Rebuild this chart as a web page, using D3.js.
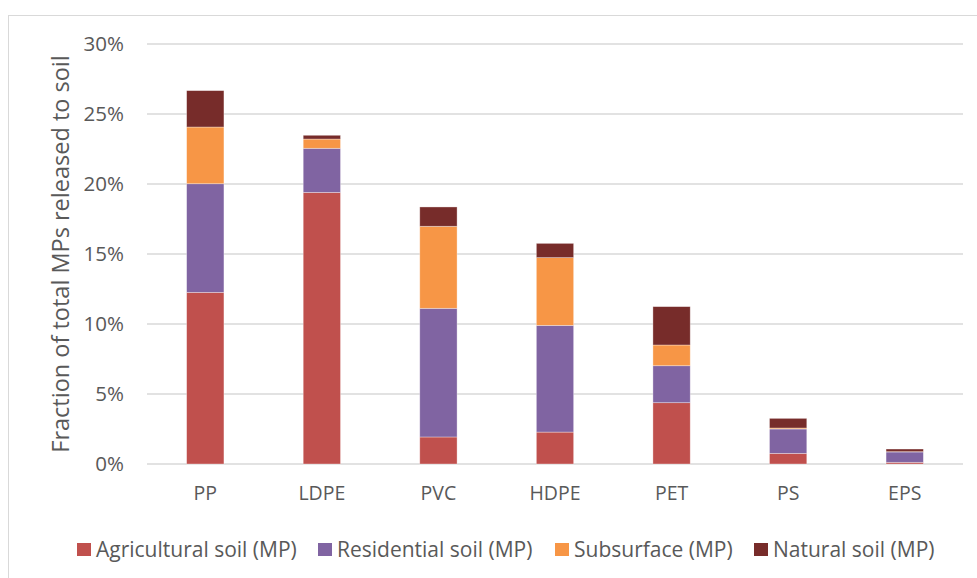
<!DOCTYPE html>
<html>
<head>
<meta charset="utf-8">
<script src="https://cdn.jsdelivr.net/npm/d3@7"></script>
<style>
  body { margin: 0; background: #fff; }
  text { font-family: "Open Sans", sans-serif; fill: #595959; }
</style>
</head>
<body>
<svg id="chart" width="977" height="578"></svg>
<script>
// values in % of total MPs released to soil
const polymers = ['PP', 'LDPE', 'PVC', 'HDPE', 'PET', 'PS', 'EPS'];
const agricultural = [12.26, 19.4, 1.93, 2.28, 4.38, 0.76, 0.12];
const residential = [7.76, 3.15, 9.19, 7.62, 2.64, 1.74, 0.74];
const subsurface = [4.05, 0.66, 5.86, 4.84, 1.48, 0.07, 0.02];
const natural = [2.6, 0.27, 1.38, 1.02, 2.74, 0.69, 0.19];
const seriesNames = ['Agricultural soil (MP)', 'Residential soil (MP)', 'Subsurface (MP)', 'Natural soil (MP)'];
const yTicks = [0, 5, 10, 15, 20, 25, 30];

const colors = ['#C0504D', '#8064A2', '#F79646', '#772C2A'];

const svg = d3.select('#chart');

// chart frame
svg.append('rect')
  .attr('x', 8.5).attr('y', 15.5)
  .attr('width', 1000).attr('height', 600)
  .attr('fill', 'none').attr('stroke', '#d9d9d9');

const plotLeft = 147, plotRight = 963, plotTop = 44, plotBottom = 464;

const x = d3.scaleBand().domain(polymers).range([plotLeft, plotRight]).paddingInner(0.68).paddingOuter(0.34);
const y = d3.scaleLinear().domain([0, 30]).range([plotBottom, plotTop]);

// gridlines
svg.append('g')
  .selectAll('line')
  .data(yTicks)
  .join('line')
  .attr('x1', plotLeft).attr('x2', plotRight)
  .attr('y1', d => y(d)).attr('y2', d => y(d))
  .attr('stroke', '#d9d9d9').attr('stroke-width', 1.5);

// y axis labels
const yAxis = d3.axisLeft(y).tickValues(yTicks).tickFormat(d => d + '%').tickSize(0).tickPadding(0);
svg.append('g')
  .attr('transform', `translate(124,0)`)
  .call(yAxis)
  .call(g => g.select('.domain').remove())
  .selectAll('text')
  .style('font-family', '"Open Sans", sans-serif')
  .style('font-size', '20.5px')
  .attr('fill', '#595959');

// x axis labels
const xAxis = d3.axisBottom(x).tickSize(0).tickPadding(0);
svg.append('g')
  .attr('transform', `translate(0,486)`)
  .call(xAxis)
  .call(g => g.select('.domain').remove())
  .selectAll('text')
  .style('font-family', '"Open Sans", sans-serif')
  .style('font-size', '19.5px')
  .attr('fill', '#595959');

// stacked bars
const rows = polymers.map((p, i) => ({
  polymer: p,
  s0: agricultural[i], s1: residential[i], s2: subsurface[i], s3: natural[i]
}));
const stack = d3.stack().keys(['s0', 's1', 's2', 's3']);
const stacked = stack(rows);

svg.append('g')
  .selectAll('g')
  .data(stacked)
  .join('g')
  .attr('fill', (d, i) => colors[i])
  .selectAll('rect')
  .data(d => d)
  .join('rect')
  .attr('x', d => x(d.data.polymer))
  .attr('width', x.bandwidth())
  .attr('y', d => y(d[1]))
  .attr('height', d => y(d[0]) - y(d[1]))
  .attr('stroke', '#ffffff').attr('stroke-opacity', 0.45).attr('stroke-width', 0.75);

// axis title
svg.append('text')
  .attr('transform', `translate(69,${(plotTop + plotBottom) / 2}) rotate(-90)`)
  .attr('text-anchor', 'middle')
  .style('font-size', '23.5px')
  .text('Fraction of total MPs released to soil');

// legend
const legendX = [77, 318, 555, 754];
const legend = svg.append('g')
  .selectAll('g')
  .data(seriesNames)
  .join('g')
  .attr('transform', (d, i) => `translate(${legendX[i]},543)`);
legend.append('rect')
  .attr('width', 14).attr('height', 13)
  .attr('fill', (d, i) => colors[i]);
legend.append('text')
  .attr('x', 19).attr('y', 6.5)
  .attr('dy', '0.35em')
  .style('font-size', '21px')
  .text(d => d);
</script>
</body>
</html>
